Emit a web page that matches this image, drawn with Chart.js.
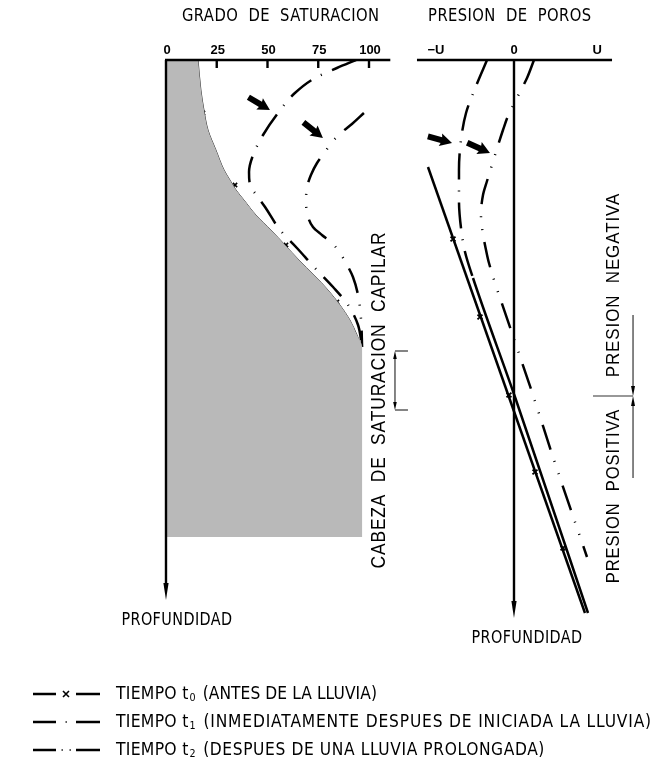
<!DOCTYPE html>
<html lang="es">
<head>
    <meta charset="UTF-8">
    <title>Grado de saturacion y presion de poros</title>
    <script src="https://cdn.jsdelivr.net/npm/chart.js"></script>
    <style>
        html, body { margin: 0; padding: 0; background: #fff; }
        #chart { display: block; }
    </style>
</head>
<body>
    <canvas id="chart" width="656" height="771"></canvas>

    <script>
        // Grado de saturacion (%) contra profundidad (cm bajo la superficie)
        const satDepthT0 = [0, 30, 50, 70, 90, 110, 120, 130, 140, 155, 170, 185, 200, 215, 230, 245, 260, 275, 287, 477];
        const satT0 = [15.8, 17.2, 18.7, 20.7, 24.6, 28.6, 31.5, 34.5, 38.4, 44.3, 51.7, 58.6, 65.5, 72.9, 79.8, 85.7, 90.6, 94.1, 96.6, 96.6];
        const satMarkDepthT0 = [53, 125, 185, 242];
        const satMarkT0 = [18.2, 34.0, 59.1, 84.2];
        const satDepthT1 = [0, 8, 18, 33, 53, 75, 95, 112, 125, 137, 147, 170, 188, 208, 227, 245, 265, 287];
        const satT1 = [93.6, 84.2, 73.4, 63.5, 55.2, 47.8, 42.9, 40.9, 41.4, 45.3, 48.8, 56.2, 64.5, 73.4, 82.3, 89.7, 94.6, 96.6];
        const satDepthT2 = [53, 64, 72, 82, 92, 103, 115, 127, 140, 153, 167, 175, 183, 193, 205, 217, 235, 260, 287];
        const satT2 = [97.5, 91.6, 86.7, 81.8, 78.3, 74.4, 71.4, 69.5, 69.0, 69.5, 72.4, 76.8, 81.8, 85.7, 89.2, 92.1, 94.6, 96.1, 96.6];

        // Presion de poros (% de U) contra profundidad
        const presDepthT0 = [107, 553];
        const presT0 = [-102.4, 84.5];
        const presMarkDepthT0 = [179, 257, 335, 412, 488];
        const presMarkT0 = [-72.6, -40.5, -6.0, 25.0, 58.3];
        const presDepthT1 = [0, 26, 53, 80, 110, 140, 168, 192, 218, 337, 553];
        const presT1 = [-32.1, -45.2, -57.1, -63.1, -65.5, -65.5, -63.1, -58.3, -48.8, 1.2, 88.1];
        const presDepthT2 = [0, 18, 32, 56, 70, 95, 121, 135, 155, 168, 190, 203, 270, 335, 400, 497];
        const presT2 = [23.8, 15.5, 7.1, -7.1, -13.1, -22.6, -32.1, -36.9, -39.3, -38.1, -33.3, -29.8, -3.6, 22.6, 47.6, 86.9];

        // Etiquetas de los ejes
        const satTicks = [0, 25, 50, 75, 100];
        const presTicks = [-93, 0, 99];
        const presTickLabels = ['\u2212U', '0', 'U'];
        const legendLabels = ['(ANTES DE LA LLUVIA)', '(INMEDIATAMENTE DESPUES DE INICIADA LA LLUVIA)', '(DESPUES DE UNA LLUVIA PROLONGADA)'];

        const zip = (xs, ys) => xs.map((x, i) => ({ x: x, y: ys[i] }));

        const DASH_T1 = [26, 11, 1, 11];
        const DASH_T2 = [26, 12, 1, 12, 1, 12];
        const CAD = "'DejaVu Sans', sans-serif";   // se comprime en x para parecer letra de CAD
        const ARIAL = "'Liberation Sans', Arial, sans-serif";
        const legendEnds = [377, 652, 545];   // borde derecho de cada renglon de la leyenda

        function txt(ctx, s, x, y, font, opt) {
            opt = opt || {};
            const sx = opt.sx || 1;
            ctx.save();
            ctx.font = font;
            ctx.fillStyle = '#000';
            if ('letterSpacing' in ctx) ctx.letterSpacing = (opt.spacing || 0) + 'px';
            ctx.textAlign = opt.align || 'center';
            ctx.textBaseline = 'middle';
            ctx.translate(x, y);
            if (opt.rot) ctx.rotate(opt.rot);
            ctx.scale(sx, 1);
            ctx.fillText(s, 0, 0);
            const w = ctx.measureText(s).width * sx;
            ctx.restore();
            return w;
        }

        // espaciado entre letras para que el texto ocupe un ancho dado
        function fitSpacing(ctx, s, font, sx, width) {
            ctx.save();
            ctx.font = font;
            if ('letterSpacing' in ctx) ctx.letterSpacing = '0px';
            const w = ctx.measureText(s).width;
            ctx.restore();
            return (width / sx - w) / s.length;
        }

        function seg(ctx, x1, y1, x2, y2, w, color) {
            ctx.save();
            ctx.strokeStyle = color || '#000';
            ctx.lineWidth = w;
            ctx.beginPath();
            ctx.moveTo(x1, y1);
            ctx.lineTo(x2, y2);
            ctx.stroke();
            ctx.restore();
        }

        // punta de flecha estrecha, angulo en radianes hacia donde apunta
        function head(ctx, x, y, ang, len, half) {
            ctx.save();
            ctx.translate(x, y);
            ctx.rotate(ang);
            ctx.fillStyle = '#000';
            ctx.beginPath();
            ctx.moveTo(0, 0);
            ctx.lineTo(-len, -half);
            ctx.lineTo(-len, half);
            ctx.closePath();
            ctx.fill();
            ctx.restore();
        }

        // flecha gruesa negra (indica el avance del frente humedo)
        function bigArrow(ctx, x, y, deg) {
            ctx.save();
            ctx.translate(x, y);
            ctx.rotate(deg * Math.PI / 180);
            ctx.fillStyle = '#000';
            ctx.beginPath();
            ctx.moveTo(0, 0);
            ctx.lineTo(-12, -6.5);
            ctx.lineTo(-11, -3);
            ctx.lineTo(-25, -3);
            ctx.lineTo(-25, 3);
            ctx.lineTo(-11, 3);
            ctx.lineTo(-12, 6.5);
            ctx.closePath();
            ctx.fill();
            ctx.restore();
        }

        const arrowsSat = [{ v: 51.2, d: 50, deg: 30.6 }, { v: 77.3, d: 78, deg: 38.7 }];
        const arrowsPres = [{ v: -73.8, d: 83, deg: 15.3 }, { v: -28.6, d: 93, deg: 24.4 }];

        const overlay = {
            id: 'overlay',
            afterDatasetsDraw(chart) {
                const { ctx } = chart;
                const { xs, xp, y } = chart.scales;
                const top = y.getPixelForValue(0);

                // eje de saturacion
                const sx0 = xs.getPixelForValue(0);
                seg(ctx, sx0 - 1, top, xs.getPixelForValue(110.5), top, 2.6);
                satTicks.forEach(t => {
                    const px = xs.getPixelForValue(t);
                    if (t > 0) seg(ctx, px, top, px, top + 8, 2.4);
                    txt(ctx, String(t), px + 1, top - 10, 'bold 13px ' + ARIAL);
                });
                seg(ctx, sx0, top, sx0, y.getPixelForValue(526), 2.4);
                head(ctx, sx0, y.getPixelForValue(540), Math.PI / 2, 17, 2.6);

                // eje de presion
                const px0 = xp.getPixelForValue(0);
                seg(ctx, xp.getPixelForValue(-115.5), top, xp.getPixelForValue(116.7), top, 2.6);
                presTicks.forEach((t, i) => {
                    txt(ctx, presTickLabels[i], xp.getPixelForValue(t), top - 10, 'bold 13px ' + ARIAL);
                });
                seg(ctx, px0, top, px0, y.getPixelForValue(544), 2.4);
                head(ctx, px0, y.getPixelForValue(558), Math.PI / 2, 17, 2.6);

                // titulos
                txt(ctx, 'GRADO  DE  SATURACION', xs.getPixelForValue(56.5), 16, '18px ' + CAD, { spacing: 0.5, sx: 0.82 });
                txt(ctx, 'PRESION  DE  POROS', xp.getPixelForValue(-5), 16, '18px ' + CAD, { spacing: 0.5, sx: 0.82 });
                txt(ctx, 'PROFUNDIDAD', xs.getPixelForValue(5.4), 620, '18px ' + CAD, { spacing: 0.5, sx: 0.8 });
                txt(ctx, 'PROFUNDIDAD', xp.getPixelForValue(15.5), 638, '18px ' + CAD, { spacing: 0.5, sx: 0.8 });

                // textos verticales
                txt(ctx, 'CABEZA  DE  SATURACION  CAPILAR', xs.getPixelForValue(105.4), y.getPixelForValue(340),
                    '20px ' + ARIAL, { rot: -Math.PI / 2, spacing: 1, sx: 0.87 });
                txt(ctx, 'PRESION  NEGATIVA', xp.getPixelForValue(119), y.getPixelForValue(225),
                    '18px ' + ARIAL, { rot: -Math.PI / 2, spacing: 1, sx: 0.94 });
                txt(ctx, 'PRESION  POSITIVA', xp.getPixelForValue(119), y.getPixelForValue(436),
                    '18px ' + ARIAL, { rot: -Math.PI / 2, spacing: 1, sx: 0.92 });

                // cota de la cabeza capilar
                const bx = xs.getPixelForValue(112.8), bx2 = xs.getPixelForValue(119.2);
                const by1 = y.getPixelForValue(291), by2 = y.getPixelForValue(350);
                seg(ctx, bx, by1 + 6, bx, by2 - 6, 1.2, '#333');
                seg(ctx, bx, by1, bx2, by1, 1.2, '#333');
                seg(ctx, bx, by2, bx2, by2, 1.2, '#333');
                head(ctx, bx, by1, -Math.PI / 2, 8, 1.8);
                head(ctx, bx, by2, Math.PI / 2, 8, 1.8);

                // cota presion negativa / positiva
                const dx = xp.getPixelForValue(141.7), dx2 = xp.getPixelForValue(94);
                const dm = y.getPixelForValue(336);
                seg(ctx, dx, y.getPixelForValue(255), dx, dm - 8, 1.2, '#333');
                seg(ctx, dx, dm + 8, dx, y.getPixelForValue(418), 1.2, '#333');
                seg(ctx, dx2, dm, dx, dm, 1.2, '#333');
                head(ctx, dx, dm, Math.PI / 2, 10, 2);
                head(ctx, dx, dm, -Math.PI / 2, 10, 2);

                // flechas gruesas
                arrowsSat.forEach(a => bigArrow(ctx, xs.getPixelForValue(a.v), y.getPixelForValue(a.d), a.deg));
                arrowsPres.forEach(a => bigArrow(ctx, xp.getPixelForValue(a.v), y.getPixelForValue(a.d), a.deg));

                // leyenda
                legendLabels.forEach((lab, i) => {
                    const ly = 694 + i * 28;
                    seg(ctx, 33, ly, 56, ly, 2.5);
                    seg(ctx, 76, ly, 100, ly, 2.5);
                    ctx.save();
                    ctx.fillStyle = '#000';
                    ctx.strokeStyle = '#000';
                    if (i === 0) {
                        ctx.lineWidth = 1.6;
                        ctx.beginPath();
                        ctx.moveTo(63, ly - 3); ctx.lineTo(69, ly + 3);
                        ctx.moveTo(69, ly - 3); ctx.lineTo(63, ly + 3);
                        ctx.stroke();
                    } else if (i === 1) {
                        ctx.fillRect(65.5, ly - 0.7, 1.4, 1.4);
                    } else {
                        ctx.fillRect(61.5, ly - 0.7, 1.4, 1.4);
                        ctx.fillRect(69.5, ly - 0.7, 1.4, 1.4);
                    }
                    ctx.restore();
                    const font = '18px ' + CAD;
                    let x = 116;
                    x += txt(ctx, 'TIEMPO t', x, ly, font, { align: 'left', spacing: 0.3, sx: 0.87 });
                    x += txt(ctx, String(i), x + 1, ly + 4, '11px ' + CAD, { align: 'left', sx: 0.87 });
                    const s = ' ' + lab;
                    const sp = fitSpacing(ctx, s, font, 0.86, legendEnds[i] - (x + 3));
                    txt(ctx, s, x + 3, ly, font, { align: 'left', spacing: sp, sx: 0.86 });
                });
            }
        };

        const base = { pointRadius: 0, borderColor: '#000', borderWidth: 2.5, fill: false, yAxisID: 'y' };

        new Chart(document.getElementById('chart'), {
            type: 'line',
            data: {
                datasets: [
                    Object.assign({}, base, {
                        label: 'gris t0', data: zip(satT0, satDepthT0), xAxisID: 'xs',
                        fill: 'origin', backgroundColor: '#b9b9b9', borderWidth: 0,
                        cubicInterpolationMode: 'monotone'
                    }),
                    Object.assign({}, base, {
                        label: 'Tiempo t0', data: zip(satT0, satDepthT0).slice(0, 19), xAxisID: 'xs',
                        borderWidth: 1, borderColor: '#333', cubicInterpolationMode: 'monotone'
                    }),
                    Object.assign({}, base, {
                        label: 'marcas t0', data: zip(satMarkT0, satMarkDepthT0), xAxisID: 'xs', showLine: false,
                        pointRadius: 3, pointStyle: 'crossRot', pointBorderWidth: 1.6, pointBorderColor: '#000'
                    }),
                    Object.assign({}, base, {
                        label: 'Tiempo t1', data: zip(satT1, satDepthT1), xAxisID: 'xs',
                        borderDash: DASH_T1, cubicInterpolationMode: 'monotone'
                    }),
                    Object.assign({}, base, {
                        label: 'Tiempo t2', data: zip(satT2, satDepthT2), xAxisID: 'xs',
                        borderDash: DASH_T2, cubicInterpolationMode: 'monotone'
                    }),
                    Object.assign({}, base, {
                        label: 'Presion t0', data: zip(presT0, presDepthT0), xAxisID: 'xp', tension: 0
                    }),
                    Object.assign({}, base, {
                        label: 'marcas presion t0', data: zip(presMarkT0, presMarkDepthT0), xAxisID: 'xp', showLine: false,
                        pointRadius: 3.5, pointStyle: 'crossRot', pointBorderWidth: 1.8, pointBorderColor: '#000'
                    }),
                    Object.assign({}, base, {
                        label: 'Presion t1', data: zip(presT1, presDepthT1), xAxisID: 'xp',
                        cubicInterpolationMode: 'monotone',
                        segment: { borderDash: c => (c.p0DataIndex < 8 ? DASH_T1 : []) }
                    }),
                    Object.assign({}, base, {
                        label: 'Presion t2', data: zip(presT2, presDepthT2), xAxisID: 'xp',
                        borderDash: DASH_T2, cubicInterpolationMode: 'monotone'
                    })
                ]
            },
            options: {
                indexAxis: 'y',
                responsive: false,
                animation: false,
                layout: { autoPadding: false, padding: { top: 60, bottom: 151, left: 0, right: 0 } },
                scales: {
                    xs: { type: 'linear', axis: 'x', min: -81.77, max: 241.38, display: false },
                    xp: { type: 'linear', axis: 'x', min: -611.9, max: 169.05, display: false },
                    y: { type: 'linear', min: 0, max: 560, reverse: true, display: false }
                },
                plugins: {
                    legend: { display: false },
                    tooltip: { enabled: false }
                }
            },
            plugins: [overlay]
        });
    </script>
</body>
</html>
